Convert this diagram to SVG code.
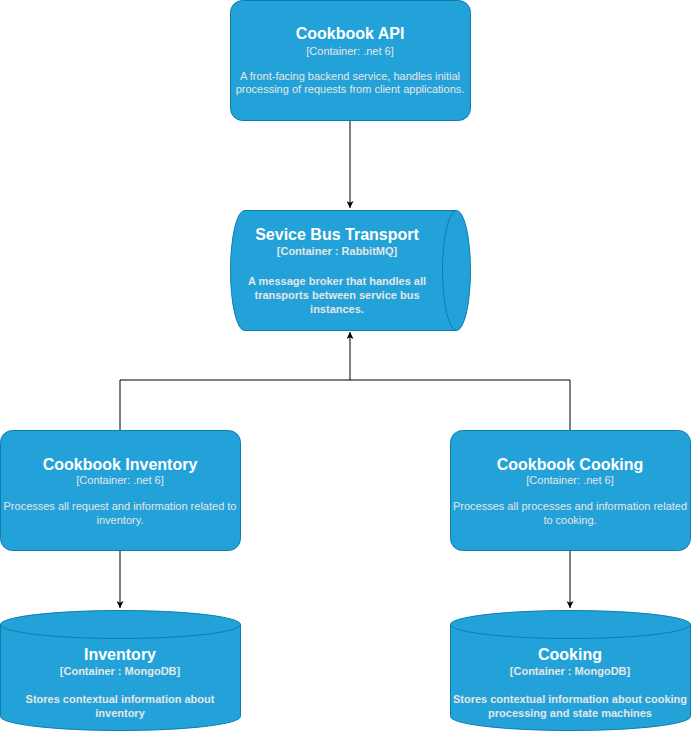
<svg xmlns="http://www.w3.org/2000/svg" width="691" height="731" viewBox="0 0 691 731">
<defs>
<style>
.box{fill:#23A2D9;stroke:#0E7DAD;stroke-width:1}
.t{font-family:"Liberation Sans",Helvetica,Arial,sans-serif;fill:#FFFFFF;text-anchor:middle}
.title{font-size:16px;font-weight:bold}
.sub{font-size:11px;fill:#E6E6E6}
.b{font-weight:bold}
.edge{fill:none;stroke:#000000;stroke-width:1}
</style>
<marker id="arr" viewBox="0 0 10 10" refX="10" refY="5" markerWidth="7" markerHeight="7" orient="auto" markerUnits="userSpaceOnUse">
<path d="M0,0 L10,5 L0,10 L2.5,5 Z" fill="#000000"/>
</marker>
</defs>
<rect width="691" height="731" fill="#FFFFFF"/>
<g id="connectors">
<path class="edge" d="M350,121 L350,208" marker-end="url(#arr)"/>
<path class="edge" d="M120,430 L120,380 L350,380 L350,332" marker-end="url(#arr)"/>
<path class="edge" d="M570,430 L570,380 L350,380"/>
<path class="edge" d="M120,551 L120,608" marker-end="url(#arr)"/>
<path class="edge" d="M570,551 L570,608" marker-end="url(#arr)"/>
</g>
<g id="cookbook-api">
<rect class="box" x="230.5" y="0.5" width="240" height="120" rx="12"/>
<text class="t title" x="350" y="39">Cookbook API</text>
<text class="t sub" x="350" y="55">[Container: .net 6]</text>
<text class="t sub" x="350" y="80">A front-facing backend service, handles initial</text>
<text class="t sub" x="350" y="93">processing of requests from client applications.</text>
</g>
<g id="service-bus">
<path class="box" d="M244.5,210.5 L456.5,210.5 A14,60 0 0 1 456.5,330.5 L244.5,330.5 A14,60 0 0 1 244.5,210.5 Z"/>
<path class="box" d="M456.5,210.5 A14,60 0 0 0 456.5,330.5" fill="none"/>
<text class="t title" x="337" y="240">Sevice Bus Transport</text>
<text class="t sub b" x="337" y="255">[Container : RabbitMQ]</text>
<text class="t sub b" x="337" y="285">A message broker that handles all</text>
<text class="t sub b" x="337" y="299">transports between service bus</text>
<text class="t sub b" x="337" y="313">instances.</text>
</g>
<g id="cookbook-inventory">
<rect class="box" x="0.5" y="430.5" width="240" height="120" rx="12"/>
<text class="t title" x="120" y="470">Cookbook Inventory</text>
<text class="t sub" x="120" y="484">[Container: .net 6]</text>
<text class="t sub" x="120" y="510">Processes all request and information related to</text>
<text class="t sub" x="120" y="524">inventory.</text>
</g>
<g id="cookbook-cooking">
<rect class="box" x="450.5" y="430.5" width="240" height="120" rx="12"/>
<text class="t title" x="570" y="470">Cookbook Cooking</text>
<text class="t sub" x="570" y="484">[Container: .net 6]</text>
<text class="t sub" x="570" y="510">Processes all processes and information related</text>
<text class="t sub" x="570" y="524">to cooking.</text>
</g>
<g id="inventory-db">
<path class="box" d="M0.5,624.5 A120,14 0 0 1 240.5,624.5 L240.5,716.5 A120,14 0 0 1 0.5,716.5 Z"/>
<path class="box" d="M0.5,624.5 A120,14 0 0 0 240.5,624.5" fill="none"/>
<text class="t title" x="120" y="660">Inventory</text>
<text class="t sub b" x="120" y="675">[Container : MongoDB]</text>
<text class="t sub b" x="120" y="703">Stores contextual information about</text>
<text class="t sub b" x="120" y="717">inventory</text>
</g>
<g id="cooking-db">
<path class="box" d="M450.5,624.5 A120,14 0 0 1 690.5,624.5 L690.5,716.5 A120,14 0 0 1 450.5,716.5 Z"/>
<path class="box" d="M450.5,624.5 A120,14 0 0 0 690.5,624.5" fill="none"/>
<text class="t title" x="570" y="660">Cooking</text>
<text class="t sub b" x="570" y="675">[Container : MongoDB]</text>
<text class="t sub b" x="570" y="703">Stores contextual information about cooking</text>
<text class="t sub b" x="570" y="717">processing and state machines</text>
</g>
</svg>
